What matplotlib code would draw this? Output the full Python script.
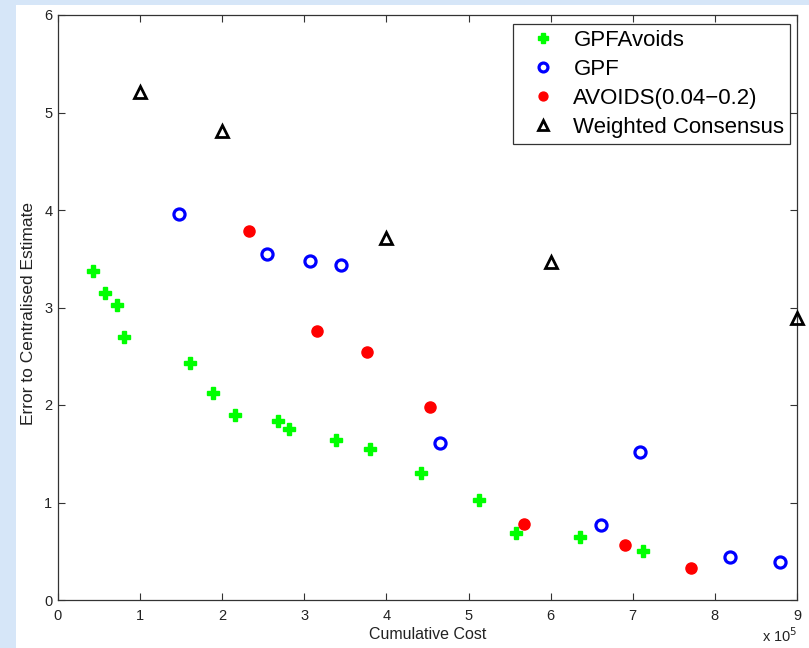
import matplotlib
matplotlib.use("Agg")
import matplotlib.pyplot as plt
from matplotlib.patches import Rectangle

plt.rcParams['font.family'] = ['Liberation Sans', 'DejaVu Sans']

# cumulative cost in units of 1e5
gpfavoids_x = [0.43, 0.57, 0.72, 0.80, 1.61, 1.89, 2.16, 2.68, 2.81, 3.39, 3.80, 4.42, 5.13, 5.58, 6.36, 7.13]
gpfavoids_y = [3.37, 3.15, 3.03, 2.70, 2.43, 2.12, 1.90, 1.84, 1.75, 1.64, 1.55, 1.30, 1.03, 0.69, 0.65, 0.50]

gpf_x = [1.47, 2.55, 3.07, 3.45, 4.65, 7.09, 6.61, 8.19, 8.79]
gpf_y = [3.96, 3.55, 3.48, 3.44, 1.61, 1.52, 0.77, 0.44, 0.39]

avoids_x = [2.33, 3.15, 3.76, 4.53, 5.68, 6.91, 7.71]
avoids_y = [3.78, 2.76, 2.54, 1.98, 0.78, 0.56, 0.33]

consensus_x = [1.0, 2.0, 4.0, 6.0, 9.0]
consensus_y = [5.21, 4.81, 3.71, 3.47, 2.89]

x_ticks = list(range(0, 10))
y_ticks = list(range(0, 7))

fig = plt.figure(figsize=(8.09, 6.48), dpi=100, facecolor="#d6e6f8")
# white slide panel behind the plot
fig.patches.append(Rectangle((16 / 809, 0), 1, 1 - 5 / 648, transform=fig.transFigure,
                             facecolor="white", edgecolor="none", zorder=-10))

ax = fig.add_axes([58 / 809, 48 / 648, 739 / 809, 585 / 648])

ax.plot(gpfavoids_x, gpfavoids_y, linestyle="none", marker="P", markersize=9,
        color="#00ff00", markeredgecolor="#00ff00", label="GPFAvoids", clip_on=False, zorder=3)
ax.plot(gpf_x, gpf_y, linestyle="none", marker="o", markersize=8, markerfacecolor="none",
        markeredgecolor="#0000ff", markeredgewidth=2.3, label="GPF", clip_on=False, zorder=3)
ax.plot(avoids_x, avoids_y, linestyle="none", marker="o", markersize=8,
        color="#ff0000", label="AVOIDS(0.04\u22120.2)", clip_on=False, zorder=3)
ax.plot(consensus_x, consensus_y, linestyle="none", marker="^", markersize=9, markerfacecolor="none",
        markeredgecolor="black", markeredgewidth=2, label="Weighted Consensus", clip_on=False, zorder=3)

ax.set_xlim(0, 9)
ax.set_ylim(0, 6)
ax.set_xticks(x_ticks)
ax.set_yticks(y_ticks)
ax.tick_params(direction="in", length=5, width=0.8, colors="#333333", labelsize=10.5,
               top=True, right=True, labelcolor="#222222")
ax.tick_params(axis="x", pad=6.5)
ax.tick_params(axis="y", pad=4)
for s in ax.spines.values():
    s.set_color("#333333")
    s.set_linewidth(0.9)

ax.set_xlabel("Cumulative Cost", fontsize=11.5, color="#222222")
ax.set_ylabel("Error to Centralised Estimate", fontsize=12.5, color="#222222")
ax.xaxis.set_label_coords(0.5, -0.046)
ax.yaxis.set_label_coords(-0.030, 0.49)
# offset text for the x axis scale
ax.text(1.0, -0.071, "x 10$^{5}$", transform=ax.transAxes, ha="right", va="baseline",
        fontsize=10.5, color="#222222")

leg = ax.legend(loc="upper right", bbox_to_anchor=(0.9905, 0.9846), fontsize=16, frameon=True,
                fancybox=False, edgecolor="black", handletextpad=0.25, borderpad=0.25,
                labelspacing=0.37, handlelength=2.2, borderaxespad=0, markerscale=0.8)
leg.get_frame().set_linewidth(0.9)

fig.savefig("out.png", dpi=100, facecolor=fig.get_facecolor())
